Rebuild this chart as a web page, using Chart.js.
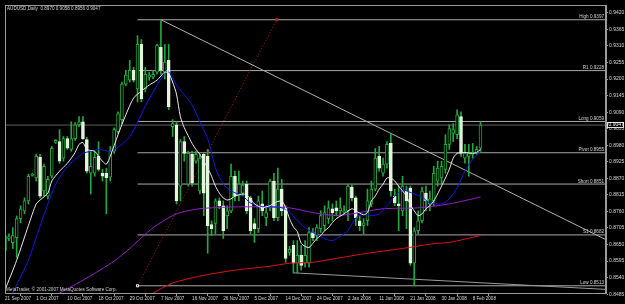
<!DOCTYPE html>
<html lang="en">
<head>
  <meta charset="UTF-8">
  <title>AUDUSD Daily</title>
  <script src="https://cdn.jsdelivr.net/npm/chart.js"></script>
  <style>
    html, body { margin: 0; padding: 0; background: #000; }
    #wrap { width: 625px; height: 304px; }
  </style>
</head>
<body>
  <div id="wrap"><canvas id="chart" width="625" height="304"></canvas></div>

  <script>
    // daily bars, 21 Sep 2007 .. 11 Feb 2008 (broker sends Sunday bars too)
    const opens = [
      .8630,.8670,.8656,.8673,.8736,.8762,.8795,.8880,.8871,.8940,
      .8828,.8811,.8877,.8989,.8992,.8937,.9002,.8966,.9002,.9048,
      .9058,.8999,.8887,.8887,.8943,.8887,.8887,.8874,.8960,.9025,
      .9065,.9183,.9196,.9229,.9167,.9315,.9167,.9206,.9206,.9223,
      .9305,.9223,.9262,.9042,.9048,.8844,.8992,.8851,.8950,.8927,
      .8828,.8950,.8943,.8716,.8720,.8795,.8779,.8746,.8762,.8877,
      .8811,.8821,.8851,.8805,.8720,.8703,.8785,.8739,.8772,.8861,
      .8739,.8834,.8772,.8624,.8647,.8588,.8614,.8588,.8588,.8690,
      .8680,.8703,.8713,.8736,.8769,.8772,.8762,.8759,.8762,.8841,
      .8805,.8729,.8713,.8729,.8785,.8834,.8943,.8887,.8917,.8986,
      .8811,.8785,.8762,.8828,.8838,.8588,.8696,.8729,.8821,.8785,
      .8795,.8861,.8871,.8900,.8983,.9019,.9015,.9075,.8937,.8943,
      .8950,.8953,.8970
    ];
    const highs = [
      .8703,.8686,.8706,.8745,.8779,.8805,.8884,.8887,.8950,.8950,
      .8917,.8877,.8976,.8999,.9032,.9009,.9009,.9058,.9055,.9075,
      .9075,.9006,.8960,.8960,.8992,.8900,.8904,.8976,.9038,.9091,
      .9190,.9229,.9262,.9239,.9344,.9331,.9239,.9223,.9229,.9315,
      .9397,.9315,.9315,.9065,.9058,.8999,.9009,.8960,.8960,.8960,
      .8950,.8953,.8966,.8729,.8802,.8805,.8795,.8779,.8917,.8894,
      .8894,.8861,.8861,.8811,.8736,.8811,.8828,.8779,.8867,.8887,
      .8904,.8867,.8779,.8644,.8663,.8663,.8647,.8663,.8706,.8703,
      .8716,.8762,.8779,.8795,.8785,.8795,.8805,.8779,.8851,.8851,
      .8811,.8746,.8736,.8834,.8861,.8969,.8976,.8937,.8992,.9019,
      .8834,.8844,.8877,.8844,.8844,.8706,.8762,.8841,.8844,.8828,
      .8910,.8927,.8927,.9015,.9048,.9052,.9098,.9091,.8983,.8983,
      .8986,.8976,.9058
    ];
    const lows = [
      .8623,.8663,.8637,.8607,.8722,.8752,.8785,.8877,.8861,.8805,
      .8811,.8802,.8871,.8986,.8920,.8927,.8966,.8960,.8996,.9042,
      .8999,.8887,.8818,.8877,.8894,.8861,.8752,.8861,.8953,.9019,
      .9052,.9177,.9190,.9190,.9124,.9124,.9157,.9196,.9200,.9216,
      .9216,.9200,.9098,.9009,.8785,.8795,.8927,.8844,.8844,.8920,
      .8818,.8746,.8621,.8680,.8686,.8769,.8670,.8703,.8756,.8795,
      .8795,.8811,.8752,.8686,.8657,.8690,.8746,.8713,.8762,.8729,
      .8729,.8746,.8591,.8614,.8555,.8555,.8565,.8575,.8575,.8663,
      .8663,.8690,.8696,.8720,.8729,.8746,.8746,.8752,.8729,.8795,
      .8713,.8696,.8686,.8713,.8775,.8828,.8894,.8877,.8904,.8811,
      .8779,.8696,.8746,.8703,.8581,.8513,.8686,.8722,.8762,.8762,
      .8779,.8844,.8851,.8887,.8966,.8992,.9002,.8943,.8920,.8877,
      .8937,.8950,.8956
    ];
    const closes = [
      .8680,.8676,.8680,.8736,.8769,.8795,.8877,.8884,.8943,.8811,
      .8910,.8867,.8970,.8996,.8927,.9002,.8970,.9002,.9048,.9058,
      .9002,.8894,.8910,.8940,.8900,.8877,.8871,.8960,.9032,.9084,
      .9183,.9213,.9229,.9196,.9315,.9134,.9216,.9213,.9216,.9311,
      .9229,.9256,.9108,.9052,.8795,.8992,.8953,.8953,.8854,.8950,
      .8937,.8821,.8713,.8703,.8795,.8779,.8696,.8762,.8877,.8811,
      .8851,.8848,.8762,.8696,.8703,.8795,.8762,.8756,.8861,.8739,
      .8834,.8762,.8604,.8634,.8588,.8614,.8581,.8614,.8690,.8673,
      .8706,.8746,.8756,.8772,.8756,.8762,.8772,.8762,.8844,.8805,
      .8739,.8713,.8722,.8795,.8834,.8937,.8904,.8917,.8983,.8828,
      .8788,.8779,.8844,.8795,.8588,.8696,.8729,.8828,.8795,.8802,
      .8887,.8904,.8910,.8983,.9035,.9032,.9081,.8953,.8953,.8953,
      .8956,.8966,.9047
    ];

    // time scale: a label every 8th bar
    const dateTicks = [0, 8, 16, 24, 32, 40, 48, 56, 64, 72, 80, 88, 96, 104, 112, 120];
    const dateLabels = [
      '21 Sep 2007', '1 Oct 2007', '10 Oct 2007', '18 Oct 2007', '29 Oct 2007',
      '7 Nov 2007', '16 Nov 2007', '26 Nov 2007', '5 Dec 2007', '14 Dec 2007',
      '24 Dec 2007', '2 Jan 2008', '11 Jan 2008', '21 Jan 2008', '30 Jan 2008', '8 Feb 2008'
    ];

    // price scale
    const priceTicks = [
      0.9420, 0.9365, 0.9310, 0.9255, 0.9200, 0.9145, 0.9090, 0.9035, 0.8980,
      0.8925, 0.8870, 0.8815, 0.8760, 0.8705, 0.8650, 0.8595, 0.8540, 0.8485
    ];

    // moving averages, [bar, price]
    const maWhite = [
      [0,.8499],[3,.8598],[6,.8713],[8,.8785],[9,.8798],[11,.8821],[12,.8861],[14,.8894],
      [16,.8920],[18,.8956],[19,.8983],[20,.8989],[21,.8966],[23,.8960],[24,.8943],[25,.8927],
      [26,.8917],[27,.8943],[29,.9015],[31,.9081],[33,.9137],[35,.9160],[37,.9180],[39,.9196],
      [40,.9210],[41,.9223],[42,.9219],[43,.9190],[44,.9150],[45,.9075],[46,.9038],[47,.9012],
      [48,.8986],[49,.8966],[50,.8950],[51,.8927],[52,.8904],[53,.8877],[54,.8844],[55,.8821],
      [56,.8805],[57,.8798],[58,.8802],[59,.8811],[61,.8818],[62,.8815],[63,.8802],[64,.8785],
      [66,.8772],[67,.8775],[68,.8779],[69,.8788],[71,.8795],[72,.8772],[73,.8736],[74,.8709],
      [75,.8693],[76,.8654],[77,.8644],[78,.8640],[79,.8654],[80,.8670],[81,.8680],[82,.8696],
      [83,.8706],[84,.8723],[85,.8736],[87,.8752],[89,.8769],[90,.8762],[92,.8749],[93,.8756],
      [94,.8795],[95,.8811],[96,.8834],[97,.8851],[98,.8871],[99,.8871],[100,.8861],[101,.8844],
      [102,.8828],[103,.8811],[104,.8782],[105,.8762],[106,.8746],[107,.8752],[108,.8769],[109,.8779],
      [110,.8795],[111,.8818],[112,.8844],[113,.8871],[114,.8900],[115,.8937],[116,.8953],[118,.8956],
      [120,.8953],[121,.8956],[122,.8966]
    ];
    const maBlue = [
      [2,.8489],[6,.8598],[8,.8673],[10,.8749],[13,.8851],[16,.8910],[18,.8933],[20,.8953],
      [22,.8960],[24,.8966],[27,.8960],[30,.8983],[32,.9009],[34,.9055],[36,.9111],[38,.9157],
      [40,.9200],[42,.9223],[44,.9180],[46,.9147],[48,.9114],[50,.9058],[52,.9002],[54,.8904],
      [56,.8851],[58,.8828],[61,.8811],[63,.8788],[66,.8775],[69,.8775],[71,.8772],[73,.8759],
      [75,.8729],[77,.8706],[79,.8690],[82,.8670],[84,.8663],[86,.8677],[88,.8696],[90,.8739],
      [92,.8752],[94,.8746],[96,.8752],[98,.8779],[100,.8811],[102,.8831],[105,.8818],[107,.8808],
      [109,.8788],[112,.8785],[114,.8802],[116,.8838],[118,.8894],[120,.8933],[122,.8960]
    ];
    const maPurple = [
      [14,.8489],[21,.8539],[28,.8595],[32,.8637],[38,.8706],[44,.8752],[50,.8769],[59,.8775],
      [68,.8775],[73,.8772],[79,.8756],[85,.8746],[89,.8752],[97,.8769],[106,.8772],[114,.8785],
      [122,.8808]
    ];
    const maRed = [
      [38,.8489],[43,.8522],[50,.8545],[59,.8565],[68,.8578],[73,.8588],[79,.8591],[85,.8604],
      [93,.8621],[102,.8637],[110,.8653],[114,.8657],[122,.8680]
    ];

    // levels, drawn from the 29 Oct bar to the right edge
    const levelNames = ['High', 'R1', 'Long', 'Pivot', 'Short', 'S1', 'Low'];
    const levelValues = [0.9397, 0.9228, 0.9059, 0.8955, 0.8851, 0.8682, 0.8513];
    const levelStart = 34;
    const lastPrice = 0.9047;
    const header = 'AUDUSD,Daily  0.8970 0.9058 0.8956 0.9047';
    const copyright = 'MetaTrader, \u00a9 2001-2007 MetaQuotes Software Corp.';

    // hand drawn objects, [bar, price]
    const trendHigh = [[40, 0.9397], [154.2, 0.8666]];
    const trendLow = [[74, 0.8556], [154.2, 0.8501]];
    const redLine = [[34, 0.8513], [52.1, 0.8961], [69.7, 0.9397]];

    const xMax = 154.2;
    const yMin = 0.8489, yMax = 0.9446;

    const GREEN = '#22a83c';
    const BEAR = '#e2f6dc';
    const LEVEL = '#a9a9a9';
    const TEXT = '#d4d4d4';
    const FONT = '"Liberation Sans", Arial, sans-serif';

    const pts = arr => arr.map(p => ({ x: p[0], y: p[1] }));
    const isBear = opens.map((o, i) => closes[i] < o);

    const levelSets = levelValues.map(v => ({
      type: 'line',
      data: [{ x: levelStart, y: v }, { x: xMax, y: v }],
      borderColor: LEVEL, borderWidth: 1, pointRadius: 0, order: 10
    }));
    // little white square where the Low line starts
    levelSets[levelSets.length - 1].pointRadius = [1.5, 0];
    levelSets[levelSets.length - 1].pointStyle = 'rect';
    levelSets[levelSets.length - 1].pointBackgroundColor = '#000';
    levelSets[levelSets.length - 1].pointBorderColor = '#ffffff';
    levelSets[levelSets.length - 1].pointBorderWidth = 1;

    const lineSet = (data, color, order, extra) => Object.assign({
      type: 'line', data: data, borderColor: color, borderWidth: 1,
      pointRadius: 0, tension: 0.25, order: order
    }, extra || {});

    const mtPlugin = {
      id: 'mtPlugin',
      beforeDraw(chart) {
        const c = chart.ctx;
        c.save();
        c.fillStyle = '#000';
        c.fillRect(0, 0, chart.width, chart.height);
        c.restore();
      },
      afterDraw(chart) {
        const c = chart.ctx, a = chart.chartArea;
        const x = chart.scales.x, y = chart.scales.y;
        c.save();
        c.strokeStyle = '#9a9a9a';
        c.lineWidth = 1;
        c.strokeRect(a.left + 0.5, a.top + 0.5, a.right - a.left - 1, a.bottom - a.top);

        c.font = '4.6px ' + FONT;
        c.fillStyle = TEXT;
        c.textBaseline = 'bottom';
        c.textAlign = 'right';
        levelValues.forEach((v, k) => {
          c.fillText(levelNames[k] + ' ' + v.toFixed(4), a.right - 2, y.getPixelForValue(v) - 0.5);
        });

        c.textAlign = 'left';
        c.textBaseline = 'middle';
        c.fillText(header, a.left + 2, a.top + 4);
        c.fillText(copyright, a.left + 1, a.bottom - 3);

        // current price box on the price scale
        const py = Math.round(y.getPixelForValue(lastPrice));
        c.fillStyle = '#000';
        c.fillRect(a.right + 1, py - 3, 17, 6);
        c.strokeStyle = '#e0e0e0';
        c.strokeRect(a.right + 1.5, py - 2.5, 16, 5);
        c.fillStyle = '#ffffff';
        c.font = '5px ' + FONT;
        c.fillText(lastPrice.toFixed(4), a.right + 2.5, py);
        c.restore();
      }
    };

    new Chart(document.getElementById('chart'), {
      type: 'bar',
      data: {
        datasets: [
          {
            label: 'wicks',
            data: highs.map((h, i) => ({ x: i, y: [lows[i], h] })),
            backgroundColor: GREEN,
            barThickness: 1, grouped: false, order: 6
          },
          {
            label: 'bodies',
            data: opens.map((o, i) => ({ x: i, y: [o, closes[i]] })),
            backgroundColor: isBear.map(b => b ? BEAR : '#000'),
            borderColor: isBear.map(b => b ? BEAR : GREEN),
            borderWidth: 1, borderSkipped: false, minBarLength: 1,
            barThickness: 3, grouped: false, order: 5
          },
          lineSet(pts(maRed), '#e01010', 4),
          lineSet(pts(maPurple), '#9420c8', 3),
          lineSet(pts(maBlue), '#1414ee', 2),
          lineSet(pts(maWhite), '#ececec', 1),
          lineSet([{ x: 0, y: lastPrice }, { x: xMax, y: lastPrice }], '#5e5e5e', 9, { tension: 0 }),
          lineSet(pts(trendHigh), '#b0b0b0', 8, { tension: 0 }),
          lineSet(pts(trendLow), '#9a9a9a', 8, { tension: 0 }),
          lineSet(pts(redLine), '#c81414', 8, {
            tension: 0, borderDash: [1, 2],
            pointStyle: 'rect', pointRadius: [0, 1.2, 1.5],
            pointBackgroundColor: '#e01010', pointBorderColor: '#e01010'
          })
        ].concat(levelSets)
      },
      options: {
        responsive: false,
        animation: false,
        devicePixelRatio: 1,
        layout: { padding: { left: 2, top: 2, right: 0, bottom: 0 } },
        plugins: { legend: { display: false }, tooltip: { enabled: false } },
        scales: {
          x: {
            type: 'linear', min: 0, max: xMax, offset: false,
            afterBuildTicks: s => { s.ticks = dateTicks.map(v => ({ value: v })); },
            afterFit: s => { s.height = 11; s.paddingLeft = 0; s.paddingRight = 0; },
            ticks: {
              autoSkip: false, maxRotation: 0, align: 'start', padding: 0,
              color: TEXT, font: { size: 4.6, family: FONT },
              callback: v => dateLabels[dateTicks.indexOf(v)]
            },
            grid: { drawOnChartArea: false, tickLength: 3, color: '#9a9a9a' },
            border: { color: '#9a9a9a' }
          },
          y: {
            type: 'linear', position: 'right', min: yMin, max: yMax,
            afterBuildTicks: s => { s.ticks = priceTicks.map(v => ({ value: v })); },
            afterFit: s => { s.width = 19; s.paddingTop = 0; s.paddingBottom = 0; },
            ticks: {
              padding: 1, color: TEXT, font: { size: 5, family: FONT },
              callback: v => v.toFixed(4)
            },
            grid: { drawOnChartArea: false, tickLength: 2, color: '#9a9a9a' },
            border: { color: '#9a9a9a' }
          }
        }
      },
      plugins: [mtPlugin]
    });
  </script>
</body>
</html>
